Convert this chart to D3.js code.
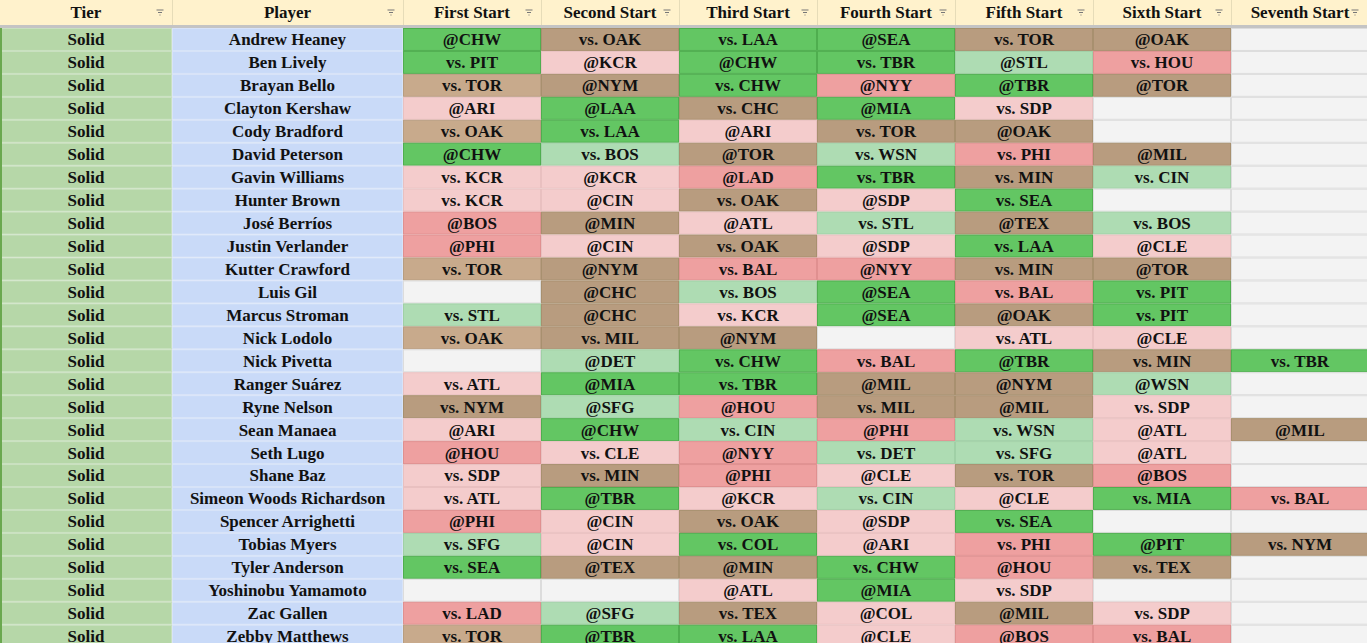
<!DOCTYPE html>
<html><head><meta charset="utf-8">
<script src="https://cdn.jsdelivr.net/npm/d3@7/dist/d3.min.js"></script>
<style>body{margin:0;background:#fff;overflow:hidden}svg{display:block}text{font-family:"Liberation Serif",serif;font-weight:bold;}</style>
</head><body><svg id="c" width="1367" height="643"></svg>
<script>
const headers = ["Tier","Player","First Start","Second Start","Third Start","Fourth Start","Fifth Start","Sixth Start","Seventh Start"];
const players = ["Andrew Heaney","Ben Lively","Brayan Bello","Clayton Kershaw","Cody Bradford","David Peterson","Gavin Williams","Hunter Brown","José Berríos","Justin Verlander","Kutter Crawford","Luis Gil","Marcus Stroman","Nick Lodolo","Nick Pivetta","Ranger Suárez","Ryne Nelson","Sean Manaea","Seth Lugo","Shane Baz","Simeon Woods Richardson","Spencer Arrighetti","Tobias Myers","Tyler Anderson","Yoshinobu Yamamoto","Zac Gallen","Zebby Matthews"];
const tiers = players.map(() => "Solid");
const starts = [
["@CHW","vs. OAK","vs. LAA","@SEA","vs. TOR","@OAK",""],
["vs. PIT","@KCR","@CHW","vs. TBR","@STL","vs. HOU",""],
["vs. TOR","@NYM","vs. CHW","@NYY","@TBR","@TOR",""],
["@ARI","@LAA","vs. CHC","@MIA","vs. SDP","",""],
["vs. OAK","vs. LAA","@ARI","vs. TOR","@OAK","",""],
["@CHW","vs. BOS","@TOR","vs. WSN","vs. PHI","@MIL",""],
["vs. KCR","@KCR","@LAD","vs. TBR","vs. MIN","vs. CIN",""],
["vs. KCR","@CIN","vs. OAK","@SDP","vs. SEA","",""],
["@BOS","@MIN","@ATL","vs. STL","@TEX","vs. BOS",""],
["@PHI","@CIN","vs. OAK","@SDP","vs. LAA","@CLE",""],
["vs. TOR","@NYM","vs. BAL","@NYY","vs. MIN","@TOR",""],
["","@CHC","vs. BOS","@SEA","vs. BAL","vs. PIT",""],
["vs. STL","@CHC","vs. KCR","@SEA","@OAK","vs. PIT",""],
["vs. OAK","vs. MIL","@NYM","","vs. ATL","@CLE",""],
["","@DET","vs. CHW","vs. BAL","@TBR","vs. MIN","vs. TBR"],
["vs. ATL","@MIA","vs. TBR","@MIL","@NYM","@WSN",""],
["vs. NYM","@SFG","@HOU","vs. MIL","@MIL","vs. SDP",""],
["@ARI","@CHW","vs. CIN","@PHI","vs. WSN","@ATL","@MIL"],
["@HOU","vs. CLE","@NYY","vs. DET","vs. SFG","@ATL",""],
["vs. SDP","vs. MIN","@PHI","@CLE","vs. TOR","@BOS",""],
["vs. ATL","@TBR","@KCR","vs. CIN","@CLE","vs. MIA","vs. BAL"],
["@PHI","@CIN","vs. OAK","@SDP","vs. SEA","",""],
["vs. SFG","@CIN","vs. COL","@ARI","vs. PHI","@PIT","vs. NYM"],
["vs. SEA","@TEX","@MIN","vs. CHW","@HOU","vs. TEX",""],
["","","@ATL","@MIA","vs. SDP","",""],
["vs. LAD","@SFG","vs. TEX","@COL","@MIL","vs. SDP",""],
["vs. TOR","@TBR","vs. LAA","@CLE","@BOS","vs. BAL",""]
];
// G strong green, g light green, B brown, t tan, p pink, R red, - empty
const ratings = [
"GBGGBB-","GpGGgR-","tBGRGB-","pGBGp--","tGpBB--","GgBgRB-","ppRGBg-","ppBpG--","RBpgBg-","RpBpGp-",
"tBRRBB-","-BgGRG-","gBpGBG-","tBB-pp-","-gGRGBG","pGGBBg-","BgRBBp-","pGgRgpB","RpRggp-","pBRpBR-",
"pGpgpGR","RpBpG--","gpGpRGB","GBBGRB-","--pGp--","RgBpBp-","tGGpRR-"
];
const W=1367,H=643;
const colEdges=[0,172,403,541,679,817,955,1093,1231,1369];
const headH=25, lineH=3, bodyTop=headH+lineH;
const svg=d3.select("#c");
const color=d3.scaleOrdinal().domain(["G","g","B","t","p","R","-"])
 .range(["#63c663","#aedcb3","#b89c7f","#c8aa8c","#f4cccc","#eea0a0","#f3f3f3"]);
const border=d3.scaleOrdinal().domain(["G","g","B","t","p","R","-"])
 .range(["#4fae4f","#a0d0a6","#a8906f","#b89d80","#e9c0c0","#e09090","#dcdcdc"]);
const y=d3.scaleBand().domain(d3.range(players.length)).range([bodyTop, bodyTop+players.length*22.95]);
svg.append("rect").attr("x",0).attr("y",0).attr("width",W).attr("height",headH).attr("fill","#fff2cc");
headers.forEach((h,i)=>{
  const x0=colEdges[i],x1=colEdges[i+1];
  svg.append("text").attr("x",(x0+x1)/2).attr("y",headH/2).attr("dy","0.35em").attr("text-anchor","middle")
   .attr("font-size",17).attr("fill","#111").text(h);
  const ix=Math.min(x1,W)-12;
  [[0,7],[1.5,5.5],[3,4]].forEach((s,k)=>svg.append("line").attr("x1",ix+s[0]-3.5).attr("x2",ix+s[1]-3.5)
     .attr("y1",10+k*2.5).attr("y2",10+k*2.5).attr("stroke","#777").attr("stroke-width",1));
  if(i>0) svg.append("line").attr("x1",x0+0.5).attr("x2",x0+0.5).attr("y1",0).attr("y2",headH).attr("stroke","#e6dcb8");
});
svg.append("rect").attr("x",0).attr("y",headH).attr("width",W).attr("height",lineH).attr("fill","#c4c4c4");
const rows=svg.append("g");
players.forEach((p,r)=>{
  const y0=y(r),h=y.bandwidth();
  const cells=[{t:tiers[r],f:"#b6d7a8",s:"#c9e0bf"},{t:p,f:"#c9daf8",s:"#d7e3f8"}];
  starts[r].forEach((s,k)=>cells.push({t:s,f:color(ratings[r][k]),s:border(ratings[r][k])}));
  cells.forEach((c,i)=>{
    const x0=colEdges[i],x1=colEdges[i+1];
    rows.append("rect").attr("x",x0+0.5).attr("y",y0+0.5).attr("width",x1-x0-1).attr("height",h-1)
      .attr("fill",c.f).attr("stroke",c.s).attr("stroke-width",1);
    if(c.t) rows.append("text").attr("x",(x0+x1)/2).attr("y",y0+h/2).attr("dy","0.35em").attr("text-anchor","middle")
      .attr("font-size",17).attr("fill","#111").text(c.t);
  });
});
svg.append("rect").attr("x",0).attr("y",bodyTop).attr("width",2).attr("height",H).attr("fill","#6aa84f");
</script></body></html>
